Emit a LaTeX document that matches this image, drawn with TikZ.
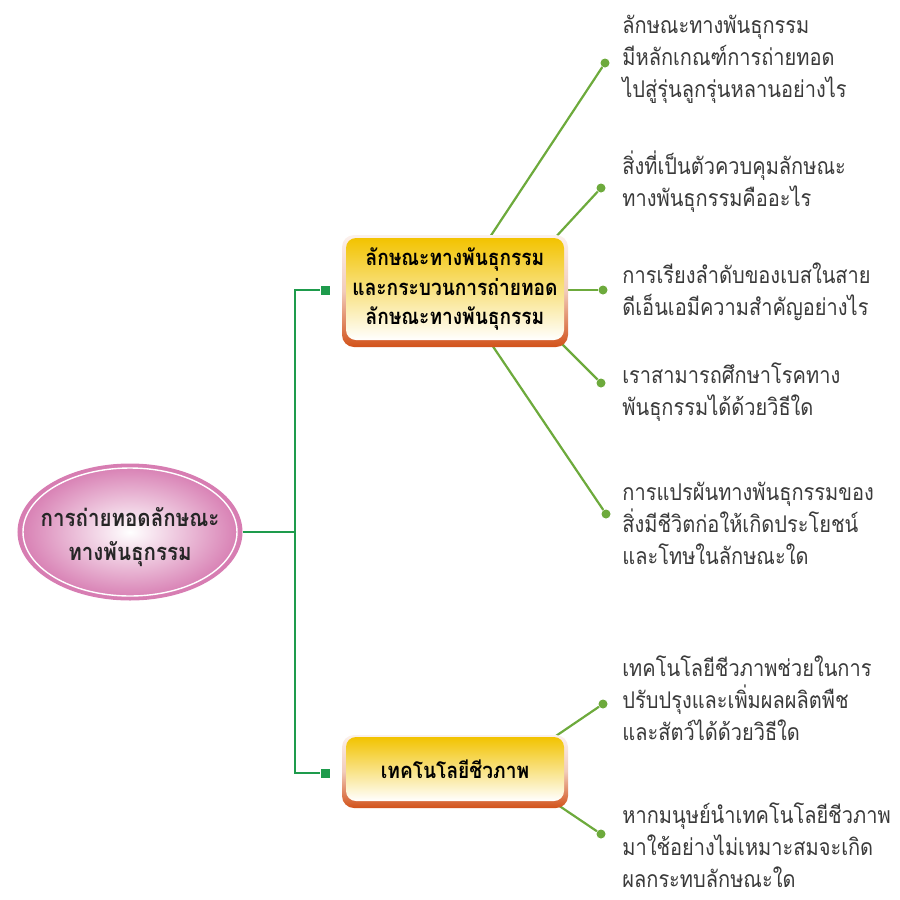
\documentclass[tikz,border=0pt]{standalone}
\usepackage{fontspec}
\newfontfamily\thai[Script=Thai, FakeStretch=0.87]{Loma}
\usetikzlibrary{backgrounds,calc,shapes.geometric}
\definecolor{txt}{HTML}{3A3A3A}
\definecolor{leaf}{HTML}{6DAA3C}
\definecolor{trunk}{HTML}{1E9B4C}
\definecolor{boxy}{HTML}{F2C300}
\definecolor{boxo}{HTML}{D2521A}
\definecolor{pinkE}{HTML}{D77DB2}
\begin{document}
\begin{tikzpicture}[x=0.5pt,y=-0.5pt,
  leaftext/.style={anchor=west, align=left, text=txt, font=\thai\fontsize{11.5}{16}\selectfont, inner sep=0pt},
  dotnode/.style={circle, fill=leaf, inner sep=0pt, minimum size=4.5pt},
  leafline/.style={draw=leaf, line width=1.1pt},
  trunkline/.style={draw=trunk, line width=1.1pt},
  sq/.style={rectangle, fill=trunk, inner sep=0pt, minimum size=4.5pt},
  topic/.style={rectangle, rounded corners=5pt, top color=boxy, bottom color=white, middle color=boxy!50!white, minimum width=109pt, align=center, font=\thai\bfseries\fontsize{11}{14.8}\selectfont, text=black, inner sep=0pt},
  frame/.style={rounded corners=6pt, top color=boxo!8!white, bottom color=boxo, middle color=boxo!30!white},
]
\useasboundingbox (0,0) rectangle (900,900);

% root ellipse
\node[ellipse, minimum width=111pt, minimum height=67pt, inner sep=0pt, inner color=white, outer color=pinkE, draw=pinkE, line width=1.5pt] (root) at (130,532) {};
\draw[white, line width=0.7pt] (root.center) ellipse (53.5pt and 32pt);
\node[align=center, font=\thai\bfseries\fontsize{11.8}{17}\selectfont, text=black!85, inner sep=0pt] (rootlabel) at (130,537) {การถ่ายทอดลักษณะ\\ทางพันธุกรรม};

% trunk
\coordinate (j) at (295,532);
\node[sq] (s1) at (325,290) {};
\node[sq] (s2) at (325,773) {};
\draw[trunkline] (root.east) -- (j);
\draw[trunkline] (j) |- (s1);
\draw[trunkline] (j) |- (s2);

% leaf dots
\node[dotnode] (d1) at (605,63) {};
\node[dotnode] (d2) at (601,188) {};
\node[dotnode] (d3) at (603,290) {};
\node[dotnode] (d4) at (601,383) {};
\node[dotnode] (d5) at (606,514) {};
\node[dotnode] (d6) at (603,704) {};
\node[dotnode] (d7) at (601,834) {};

% leaf line starts
\coordinate (a1) at (488,240);
\coordinate (a2) at (553,240);
\coordinate (a3) at (560,290);
\coordinate (a4) at (558,340);
\coordinate (a5) at (492,345);
\coordinate (a6) at (550,740);
\coordinate (a7) at (555,803);
\draw[leafline] (a1) -- (d1);
\draw[leafline] (a2) -- (d2);
\draw[leafline] (a3) -- (d3);
\draw[leafline] (a4) -- (d4);
\draw[leafline] (a5) -- (d5);
\draw[leafline] (a6) -- (d6);
\draw[leafline] (a7) -- (d7);

% boxes
\shade[frame] (342,235) rectangle (568,347);
\node[topic, minimum height=51pt] (b1) at (455,289) {ลักษณะทางพันธุกรรม\\และกระบวนการถ่ายทอด\\ลักษณะทางพันธุกรรม};
\shade[frame] (342,735) rectangle (568,808);
\node[topic, minimum height=32pt] (b2) at (455,769) {เทคโนโลยีชีวภาพ};

% leaf texts
\node[leaftext] (t1) at (622,59) {ลักษณะทางพันธุกรรม\\มีหลักเกณฑ์การถ่ายทอด\\ไปสู่รุ่นลูกรุ่นหลานอย่างไร};
\node[leaftext] (t2) at (622,182) {สิ่งที่เป็นตัวควบคุมลักษณะ\\ทางพันธุกรรมคืออะไร};
\node[leaftext] (t3) at (622,292) {การเรียงลำดับของเบสในสาย\\ดีเอ็นเอมีความสำคัญอย่างไร};
\node[leaftext] (t4) at (622,392) {เราสามารถศึกษาโรคทาง\\พันธุกรรมได้ด้วยวิธีใด};
\node[leaftext] (t5) at (622,523) {การแปรผันทางพันธุกรรมของ\\สิ่งมีชีวิตก่อให้เกิดประโยชน์\\และโทษในลักษณะใด};
\node[leaftext] (t6) at (622,698) {เทคโนโลยีชีวภาพช่วยในการ\\ปรับปรุงและเพิ่มผลผลิตพืช\\และสัตว์ได้ด้วยวิธีใด};
\node[leaftext] (t7) at (622,845) {หากมนุษย์นำเทคโนโลยีชีวภาพ\\มาใช้อย่างไม่เหมาะสมจะเกิด\\ผลกระทบลักษณะใด};
\end{tikzpicture}
\end{document}
